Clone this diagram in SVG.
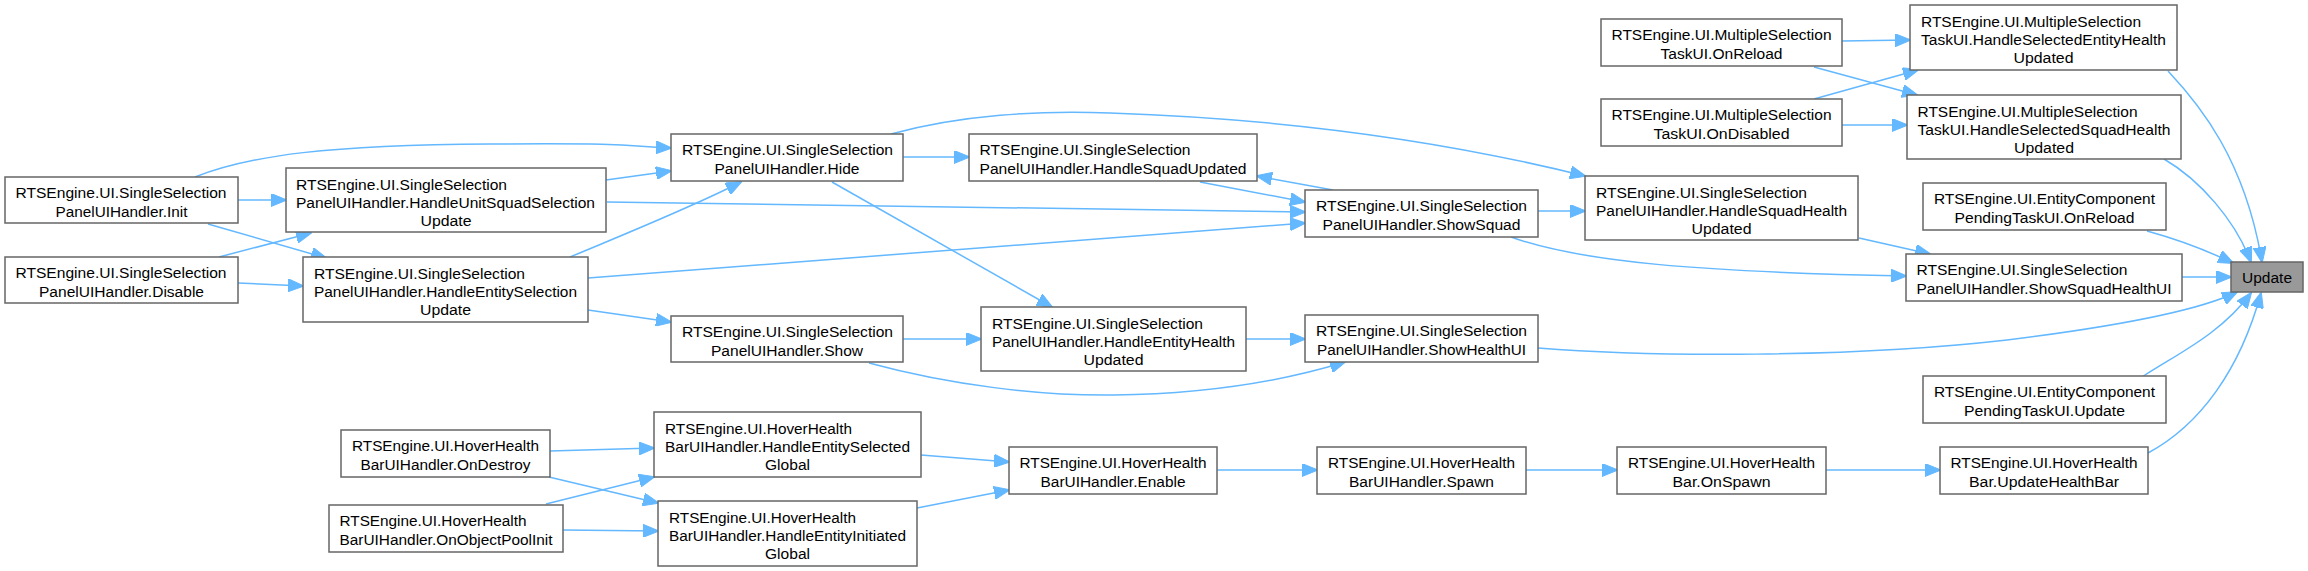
<svg xmlns="http://www.w3.org/2000/svg" width="2308" height="571" viewBox="0 0 2308 571">
<style>
.n rect{fill:#fff;stroke:#666;stroke-width:1.5}
.n.hl rect{fill:#999}
.n text{font-family:"Liberation Sans",Arial,sans-serif;font-size:15.3px;fill:#000}
.m{text-anchor:middle}
#edges path{fill:none;stroke:#63b8ff;stroke-width:1.5;marker-end:url(#ah)}
</style>
<defs>
<marker id="ah" markerUnits="userSpaceOnUse" markerWidth="16" markerHeight="13" refX="15" refY="6.5" orient="auto">
<path d="M0,0 L16,6.5 L0,13 z" fill="#63b8ff" stroke="#63b8ff" stroke-width="1"/>
</marker>
</defs>
<rect width="2308" height="571" fill="#fff"/>
<g id="edges">
<path d="M195,177 C250,155 330,145 490,144 S620,146 671,148"/>
<path d="M238,200 L286,200"/>
<path d="M208,224 L326,258"/>
<path d="M219,257 L311,233"/>
<path d="M238,283 L303,286"/>
<path d="M606,180 L671,171"/>
<path d="M607,202 L1305,212"/>
<path d="M570,257 C620,236 690,208 741,182"/>
<path d="M588,278 L1305,223"/>
<path d="M588,310 L671,322"/>
<path d="M903,157 L969,157"/>
<path d="M891,134 C960,115 1040,110 1110,113 C1260,118 1420,135 1585,176"/>
<path d="M832,182 L1052,307"/>
<path d="M1200,182 L1305,202"/>
<path d="M1333,190 L1257,176"/>
<path d="M1538,211 L1585,211"/>
<path d="M1511,237 C1580,262 1700,272 1906,276"/>
<path d="M1859,238 L1930,254"/>
<path d="M2182,277 L2231,277"/>
<path d="M1842,41 L1910,40"/>
<path d="M1814,67 L1917,95"/>
<path d="M1814,99 L1918,70"/>
<path d="M1842,125 L1907,125"/>
<path d="M2168,71 C2200,105 2245,160 2262,262"/>
<path d="M2164,159 C2200,180 2235,220 2251,262"/>
<path d="M2147,231 C2180,240 2210,252 2233,263"/>
<path d="M1538,348 C1650,357 1850,358 2007,340 C2120,326 2200,310 2237,292"/>
<path d="M2142,377 C2175,355 2220,335 2251,293"/>
<path d="M2148,453 C2200,425 2240,370 2261,293"/>
<path d="M1246,339 L1305,339"/>
<path d="M903,339 L981,339"/>
<path d="M869,363 C950,385 1040,396 1114,395 C1200,394 1280,382 1345,362"/>
<path d="M1217,470 L1317,470"/>
<path d="M1526,470 L1617,470"/>
<path d="M1826,470 L1940,470"/>
<path d="M921,455 L1009,462"/>
<path d="M917,508 L1009,490"/>
<path d="M550,451 L654,448"/>
<path d="M549,477 L658,503"/>
<path d="M546,504 L654,477"/>
<path d="M563,530 L658,531"/>
</g>
<g id="n_init" class="n"><rect x="5" y="177" width="233" height="46"/><text x="15.5" y="198" textLength="211" lengthAdjust="spacingAndGlyphs">RTSEngine.UI.SingleSelection</text><text class="m" x="121.5" y="217" textLength="132" lengthAdjust="spacingAndGlyphs">PanelUIHandler.Init</text></g>
<g id="n_disable" class="n"><rect x="5" y="257" width="233" height="46"/><text x="15.5" y="278" textLength="211" lengthAdjust="spacingAndGlyphs">RTSEngine.UI.SingleSelection</text><text class="m" x="121.5" y="297" textLength="165" lengthAdjust="spacingAndGlyphs">PanelUIHandler.Disable</text></g>
<g id="n_husu" class="n"><rect x="286" y="168" width="320" height="64"/><text x="296" y="190" textLength="211" lengthAdjust="spacingAndGlyphs">RTSEngine.UI.SingleSelection</text><text x="296" y="208" textLength="299" lengthAdjust="spacingAndGlyphs">PanelUIHandler.HandleUnitSquadSelection</text><text class="m" x="446" y="226" textLength="51" lengthAdjust="spacingAndGlyphs">Update</text></g>
<g id="n_hesu" class="n"><rect x="303" y="257" width="285" height="65"/><text x="314" y="279" textLength="211" lengthAdjust="spacingAndGlyphs">RTSEngine.UI.SingleSelection</text><text x="314" y="297" textLength="263" lengthAdjust="spacingAndGlyphs">PanelUIHandler.HandleEntitySelection</text><text class="m" x="445.5" y="315" textLength="51" lengthAdjust="spacingAndGlyphs">Update</text></g>
<g id="n_hide" class="n"><rect x="671" y="134" width="232" height="47"/><text x="682" y="155" textLength="211" lengthAdjust="spacingAndGlyphs">RTSEngine.UI.SingleSelection</text><text class="m" x="787" y="174" textLength="145" lengthAdjust="spacingAndGlyphs">PanelUIHandler.Hide</text></g>
<g id="n_hsu" class="n"><rect x="969" y="134" width="288" height="47"/><text x="979.5" y="155" textLength="211" lengthAdjust="spacingAndGlyphs">RTSEngine.UI.SingleSelection</text><text class="m" x="1113" y="174" textLength="267" lengthAdjust="spacingAndGlyphs">PanelUIHandler.HandleSquadUpdated</text></g>
<g id="n_showsquad" class="n"><rect x="1305" y="190" width="233" height="47"/><text x="1316" y="211" textLength="211" lengthAdjust="spacingAndGlyphs">RTSEngine.UI.SingleSelection</text><text class="m" x="1421.5" y="230" textLength="198" lengthAdjust="spacingAndGlyphs">PanelUIHandler.ShowSquad</text></g>
<g id="n_hshu" class="n"><rect x="1585" y="176" width="273" height="64"/><text x="1596" y="198" textLength="211" lengthAdjust="spacingAndGlyphs">RTSEngine.UI.SingleSelection</text><text x="1596" y="216" textLength="251" lengthAdjust="spacingAndGlyphs">PanelUIHandler.HandleSquadHealth</text><text class="m" x="1721.5" y="234" textLength="60" lengthAdjust="spacingAndGlyphs">Updated</text></g>
<g id="n_msreload" class="n"><rect x="1601" y="19" width="241" height="47"/><text x="1611.5" y="40" textLength="220" lengthAdjust="spacingAndGlyphs">RTSEngine.UI.MultipleSelection</text><text class="m" x="1721.5" y="59" textLength="122" lengthAdjust="spacingAndGlyphs">TaskUI.OnReload</text></g>
<g id="n_msdisabled" class="n"><rect x="1601" y="99" width="241" height="47"/><text x="1611.5" y="120" textLength="220" lengthAdjust="spacingAndGlyphs">RTSEngine.UI.MultipleSelection</text><text class="m" x="1721.5" y="139" textLength="136" lengthAdjust="spacingAndGlyphs">TaskUI.OnDisabled</text></g>
<g id="n_hsehu" class="n"><rect x="1910" y="5" width="267" height="65"/><text x="1921" y="27" textLength="220" lengthAdjust="spacingAndGlyphs">RTSEngine.UI.MultipleSelection</text><text x="1921" y="45" textLength="245" lengthAdjust="spacingAndGlyphs">TaskUI.HandleSelectedEntityHealth</text><text class="m" x="2043.5" y="63" textLength="60" lengthAdjust="spacingAndGlyphs">Updated</text></g>
<g id="n_hsshu" class="n"><rect x="1907" y="95" width="274" height="64"/><text x="1917.5" y="117" textLength="220" lengthAdjust="spacingAndGlyphs">RTSEngine.UI.MultipleSelection</text><text x="1917.5" y="135" textLength="253" lengthAdjust="spacingAndGlyphs">TaskUI.HandleSelectedSquadHealth</text><text class="m" x="2044" y="153" textLength="60" lengthAdjust="spacingAndGlyphs">Updated</text></g>
<g id="n_ecreload" class="n"><rect x="1923" y="183" width="243" height="47"/><text x="1934" y="204" textLength="221" lengthAdjust="spacingAndGlyphs">RTSEngine.UI.EntityComponent</text><text class="m" x="2044.5" y="223" textLength="180" lengthAdjust="spacingAndGlyphs">PendingTaskUI.OnReload</text></g>
<g id="n_sshui" class="n"><rect x="1906" y="254" width="276" height="47"/><text x="1916.5" y="275" textLength="211" lengthAdjust="spacingAndGlyphs">RTSEngine.UI.SingleSelection</text><text class="m" x="2044" y="294" textLength="255" lengthAdjust="spacingAndGlyphs">PanelUIHandler.ShowSquadHealthUI</text></g>
<g id="n_update" class="n hl"><rect x="2231" y="262" width="72" height="30"/><text class="m" x="2267" y="283" textLength="50" lengthAdjust="spacingAndGlyphs">Update</text></g>
<g id="n_showhealthui" class="n"><rect x="1305" y="315" width="233" height="47"/><text x="1316" y="336" textLength="211" lengthAdjust="spacingAndGlyphs">RTSEngine.UI.SingleSelection</text><text class="m" x="1421.5" y="355" textLength="209" lengthAdjust="spacingAndGlyphs">PanelUIHandler.ShowHealthUI</text></g>
<g id="n_ecupdate" class="n"><rect x="1923" y="376" width="243" height="47"/><text x="1934" y="397" textLength="221" lengthAdjust="spacingAndGlyphs">RTSEngine.UI.EntityComponent</text><text class="m" x="2044.5" y="416" textLength="161" lengthAdjust="spacingAndGlyphs">PendingTaskUI.Update</text></g>
<g id="n_uhb" class="n"><rect x="1940" y="447" width="208" height="47"/><text x="1950.5" y="468" textLength="187" lengthAdjust="spacingAndGlyphs">RTSEngine.UI.HoverHealth</text><text class="m" x="2044" y="487" textLength="150" lengthAdjust="spacingAndGlyphs">Bar.UpdateHealthBar</text></g>
<g id="n_onspawn" class="n"><rect x="1617" y="447" width="209" height="47"/><text x="1628" y="468" textLength="187" lengthAdjust="spacingAndGlyphs">RTSEngine.UI.HoverHealth</text><text class="m" x="1721.5" y="487" textLength="98" lengthAdjust="spacingAndGlyphs">Bar.OnSpawn</text></g>
<g id="n_spawn" class="n"><rect x="1317" y="447" width="209" height="47"/><text x="1328" y="468" textLength="187" lengthAdjust="spacingAndGlyphs">RTSEngine.UI.HoverHealth</text><text class="m" x="1421.5" y="487" textLength="145" lengthAdjust="spacingAndGlyphs">BarUIHandler.Spawn</text></g>
<g id="n_enable" class="n"><rect x="1009" y="447" width="208" height="47"/><text x="1019.5" y="468" textLength="187" lengthAdjust="spacingAndGlyphs">RTSEngine.UI.HoverHealth</text><text class="m" x="1113" y="487" textLength="145" lengthAdjust="spacingAndGlyphs">BarUIHandler.Enable</text></g>
<g id="n_hesg" class="n"><rect x="654" y="412" width="267" height="65"/><text x="665" y="434" textLength="187" lengthAdjust="spacingAndGlyphs">RTSEngine.UI.HoverHealth</text><text x="665" y="452" textLength="245" lengthAdjust="spacingAndGlyphs">BarUIHandler.HandleEntitySelected</text><text class="m" x="787.5" y="470" textLength="45" lengthAdjust="spacingAndGlyphs">Global</text></g>
<g id="n_heig" class="n"><rect x="658" y="501" width="259" height="65"/><text x="669" y="523" textLength="187" lengthAdjust="spacingAndGlyphs">RTSEngine.UI.HoverHealth</text><text x="669" y="541" textLength="237" lengthAdjust="spacingAndGlyphs">BarUIHandler.HandleEntityInitiated</text><text class="m" x="787.5" y="559" textLength="45" lengthAdjust="spacingAndGlyphs">Global</text></g>
<g id="n_ondestroy" class="n"><rect x="341" y="430" width="209" height="47"/><text x="352" y="451" textLength="187" lengthAdjust="spacingAndGlyphs">RTSEngine.UI.HoverHealth</text><text class="m" x="445.5" y="470" textLength="170" lengthAdjust="spacingAndGlyphs">BarUIHandler.OnDestroy</text></g>
<g id="n_onpool" class="n"><rect x="329" y="505" width="234" height="47"/><text x="339.5" y="526" textLength="187" lengthAdjust="spacingAndGlyphs">RTSEngine.UI.HoverHealth</text><text class="m" x="446" y="545" textLength="213" lengthAdjust="spacingAndGlyphs">BarUIHandler.OnObjectPoolInit</text></g>
<g id="n_show" class="n"><rect x="671" y="316" width="232" height="46"/><text x="682" y="337" textLength="211" lengthAdjust="spacingAndGlyphs">RTSEngine.UI.SingleSelection</text><text class="m" x="787" y="356" textLength="152" lengthAdjust="spacingAndGlyphs">PanelUIHandler.Show</text></g>
<g id="n_hehu" class="n"><rect x="981" y="307" width="265" height="64"/><text x="992" y="329" textLength="211" lengthAdjust="spacingAndGlyphs">RTSEngine.UI.SingleSelection</text><text x="992" y="347" textLength="243" lengthAdjust="spacingAndGlyphs">PanelUIHandler.HandleEntityHealth</text><text class="m" x="1113.5" y="365" textLength="60" lengthAdjust="spacingAndGlyphs">Updated</text></g>
</svg>
